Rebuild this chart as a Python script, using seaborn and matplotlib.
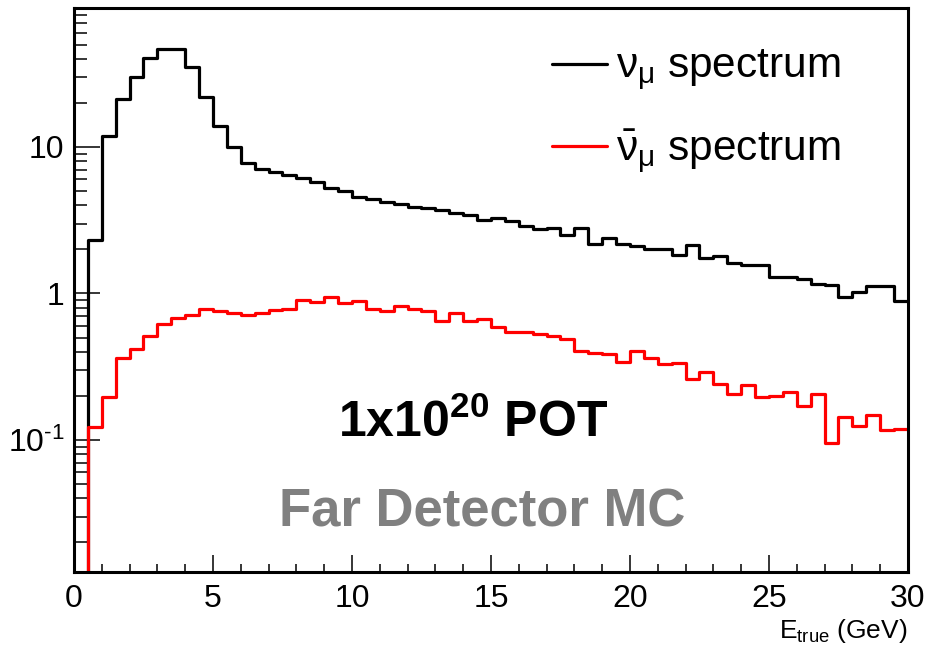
import numpy as np
import pandas as pd
import matplotlib
matplotlib.use("Agg")
import matplotlib.pyplot as plt
import seaborn as sns
from matplotlib.ticker import LogLocator, FixedLocator, MultipleLocator, NullFormatter
from matplotlib.lines import Line2D

# ---- data ----
bin_edges = [i * 0.5 for i in range(61)]
numu = [0, 2.33, 11.9, 21.2, 30.0, 40.7, 46.7, 46.7, 35.3, 22.0,
        13.8, 9.95, 7.8, 7.08, 6.75, 6.47, 6.17, 5.77, 5.22, 5.0,
        4.54, 4.4, 4.22, 4.08, 3.92, 3.82, 3.72, 3.55, 3.42, 3.17,
        3.26, 3.12, 2.90, 2.76, 2.82, 2.50, 2.82, 2.16, 2.39, 2.18,
        2.12, 2.02, 2.02, 1.84, 2.13, 1.75, 1.81, 1.61, 1.56, 1.56,
        1.30, 1.29, 1.25, 1.16, 1.15, 0.94, 1.02, 1.12, 1.12, 0.89]
numubar = [0, 0.122, 0.196, 0.362, 0.417, 0.514, 0.621, 0.679, 0.715, 0.781,
           0.765, 0.738, 0.715, 0.738, 0.769, 0.786, 0.90, 0.873, 0.95, 0.855,
           0.885, 0.778, 0.765, 0.815, 0.786, 0.765, 0.647, 0.734, 0.644, 0.668,
           0.589, 0.550, 0.550, 0.527, 0.514, 0.488, 0.404, 0.394, 0.388, 0.343,
           0.404, 0.362, 0.331, 0.336, 0.259, 0.292, 0.242, 0.205, 0.238, 0.196,
           0.200, 0.214, 0.170, 0.206, 0.095, 0.143, 0.125, 0.147, 0.117, 0.119]
labels = [r"$\nu_{\mu}$ spectrum", r"$\bar{\nu}_{\mu}$ spectrum"]
colors = ["#000000", "#ff0000"]
ytick_vals = [0.1, 1, 10]
ytick_labels = [r"$10^{\text{-}1}$", "1", "10"]

edges_arr = np.array(bin_edges)
centers = 0.5 * (edges_arr[:-1] + edges_arr[1:])
df = pd.DataFrame({
    "E": np.concatenate([centers, centers]),
    "w": np.concatenate([numu, numubar]),
    "flavor": [labels[0]] * len(numu) + [labels[1]] * len(numubar),
})

# ---- style ----
sns.set_style("white")
plt.rcParams["font.family"] = ["Liberation Sans", "DejaVu Sans"]
plt.rcParams["mathtext.fontset"] = "custom"
plt.rcParams["mathtext.rm"] = "Liberation Sans"
plt.rcParams["mathtext.it"] = "Liberation Sans"
plt.rcParams["mathtext.bf"] = "Liberation Sans:bold"
plt.rcParams["text.color"] = "black"
plt.rcParams["axes.labelcolor"] = "black"
plt.rcParams["xtick.color"] = "black"
plt.rcParams["ytick.color"] = "black"

fig = plt.figure(figsize=(9.28, 6.46), dpi=100)
ax = fig.add_axes([0.0797, 0.1146, 0.8987, 0.8731])
ax.set_yscale("log")

for lab, col in zip(labels, colors):
    sub = df[df["flavor"] == lab]
    sns.histplot(data=sub, x="E", weights="w", bins=bin_edges, element="step",
                 fill=False, color=col, linewidth=2.3, ax=ax, legend=False)

ax.set_xlim(0, 30)
ax.set_ylim(0.01256, 88.9)

# ticks
ax.xaxis.set_major_locator(MultipleLocator(5))
ax.xaxis.set_minor_locator(MultipleLocator(1))
ax.yaxis.set_major_locator(FixedLocator(ytick_vals))
ax.set_yticklabels(ytick_labels)
ax.yaxis.set_minor_locator(LogLocator(base=10, subs=np.arange(2, 10)))
ax.yaxis.set_minor_formatter(NullFormatter())
ax.tick_params(axis="both", which="both", direction="in", colors="black",
               labelsize=23, width=1.1, top=False, right=False,
               bottom=True, left=True, labelcolor="black")
ax.tick_params(axis="y", which="major", length=18.5, pad=7)
ax.tick_params(axis="y", which="minor", length=9.5)
ax.tick_params(axis="x", which="major", length=12, pad=9)
ax.tick_params(axis="x", which="minor", length=6)
for s in ax.spines.values():
    s.set_linewidth(2.2)
    s.set_color("black")

ax.set_ylabel("")
ax.set_xlabel(r"E$_{\mathrm{true}}$ (GeV)", loc="right", fontsize=19, labelpad=2,
              color="black")

handles = [Line2D([], [], color=c, lw=2.3) for c in colors]
ax.legend(handles, labels, loc="upper left", bbox_to_anchor=(0.573, 0.93),
          frameon=False, fontsize=30.5, handlelength=1.3, handletextpad=0.22,
          labelspacing=0.8, borderpad=0, borderaxespad=0, labelcolor="black")

ax.text(0.478, 0.264, r"1x10$^{\mathbf{20}}$ POT", transform=ax.transAxes,
        ha="center", va="center", fontsize=36, fontweight="bold", color="black")
ax.text(0.489, 0.106, "Far Detector MC", transform=ax.transAxes,
        ha="center", va="center", fontsize=38, fontweight="bold", color="#808080")

fig.savefig("out.png", dpi=100)
